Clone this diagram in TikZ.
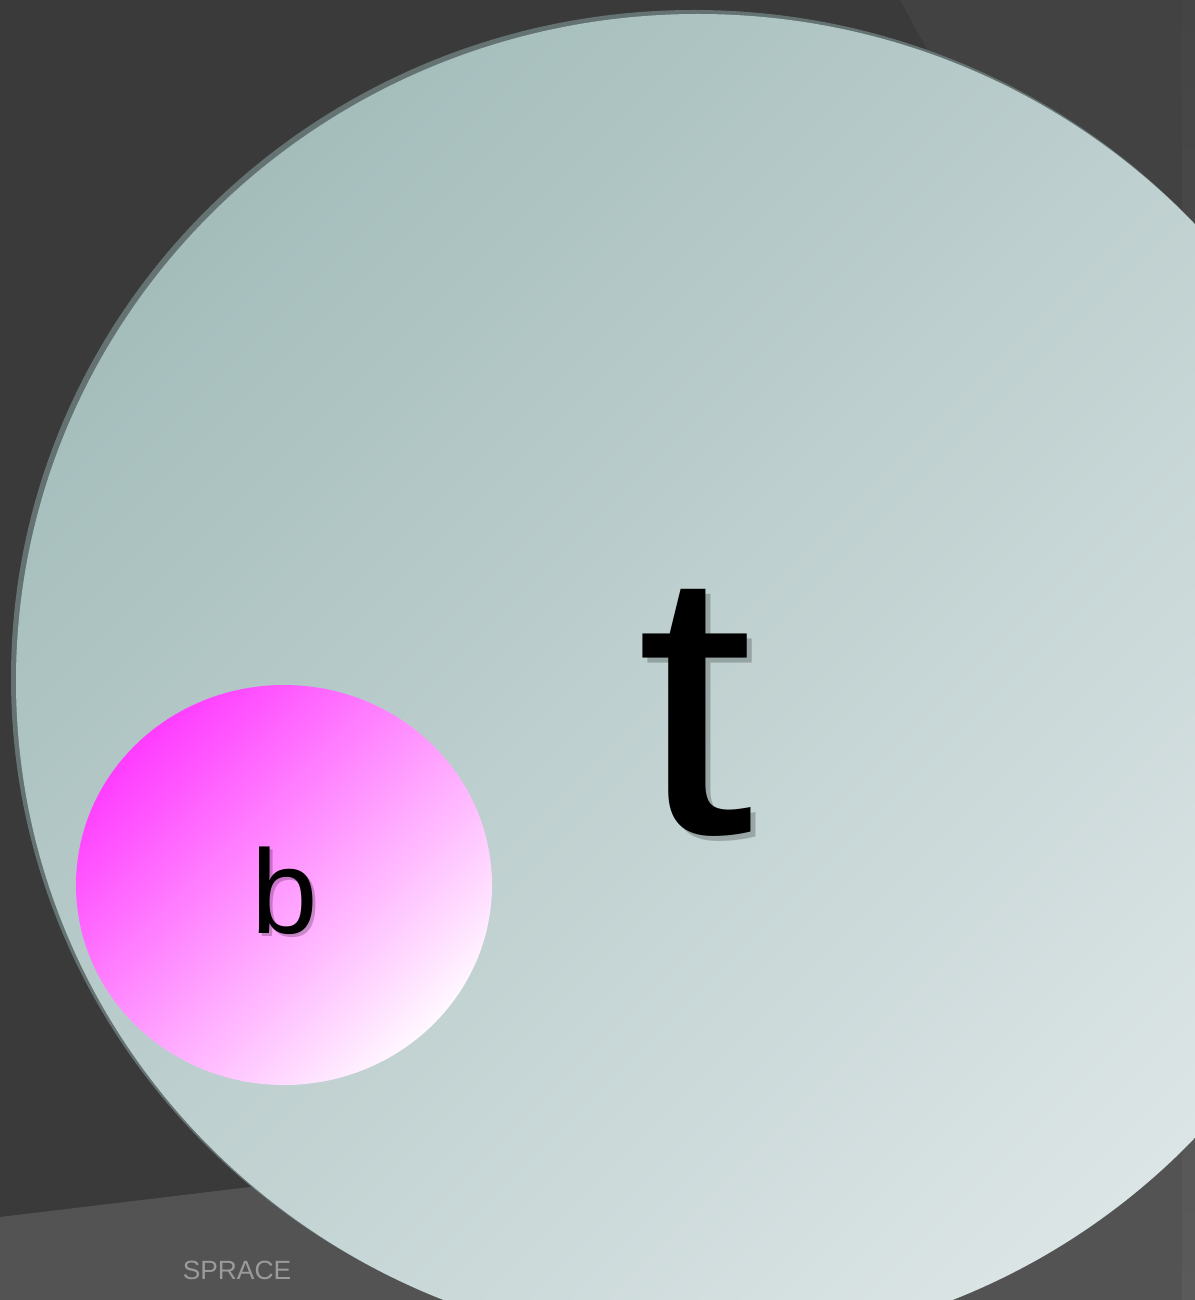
\documentclass[tikz,border=0pt]{standalone}
\usepackage{fontspec}
\setmainfont{Liberation Sans}
\usepackage{xcolor}
\usepackage{tikz}
\usetikzlibrary{shadings}
\definecolor{slidebg}{RGB}{58,58,58}
\definecolor{slidebgb}{RGB}{66,66,66}
\definecolor{footgrey}{RGB}{83,83,83}
\definecolor{edgetop}{RGB}{68,68,68}
\definecolor{edgebot}{RGB}{90,90,90}
\definecolor{topdark}{RGB}{164,189,187}
\definecolor{toplight}{RGB}{220,229,230}
\definecolor{toprim}{RGB}{100,114,114}
\definecolor{bpink}{RGB}{255,60,255}
\definecolor{bwhite}{RGB}{255,248,255}
\definecolor{spracegrey}{RGB}{155,155,155}
\tikzset{
  quark/.style={text=black, inner sep=0pt, anchor=base},
  quarkshadow/.style={quark, text=black, opacity=0.22}
}

\begin{document}
\begin{tikzpicture}[x=0.02cm,y=-0.02cm]
\useasboundingbox (0,0) rectangle (1195,1300);
\clip (0,0) rectangle (1195,1300);
% background
\fill[slidebg] (0,0) rectangle (1195,1300);
\fill[slidebgb] (900,0) -- (1195,0) -- (1195,540) -- cycle;
\fill[footgrey] (0,1217) -- (250,1187) -- (1195,1070) -- (1195,1300) -- (0,1300) -- cycle;
\shade[top color=edgetop, bottom color=edgebot] (1182,0) rectangle (1195,1300);
% top quark
\fill[toprim] (694,678) ellipse [x radius=683, y radius=668];
\shade[top color=topdark, bottom color=toplight, shading angle=45] (698,681) ellipse [x radius=682, y radius=667];
% bottom quark
\shade[top color=bpink, bottom color=bwhite, shading angle=45] (284,885) ellipse [x radius=208, y radius=200];
% labels
\node[quarkshadow, xscale=1.12, font=\fontsize{215}{215}\selectfont] (tqshadow) at (700,838) {t};
\node[quark, xscale=1.12, font=\fontsize{215}{215}\selectfont] (tq) at (695,833) {t};
\node[quarkshadow, font=\fontsize{68}{68}\selectfont] (bqshadow) at (288,936) {b};
\node[quark, font=\fontsize{68}{68}\selectfont] (bq) at (285,933) {b};
\node[text=spracegrey, inner sep=0pt, anchor=base, font=\fontsize{15}{15}\selectfont] (sprace) at (237,1279) {SPRACE};
\end{tikzpicture}
\end{document}
